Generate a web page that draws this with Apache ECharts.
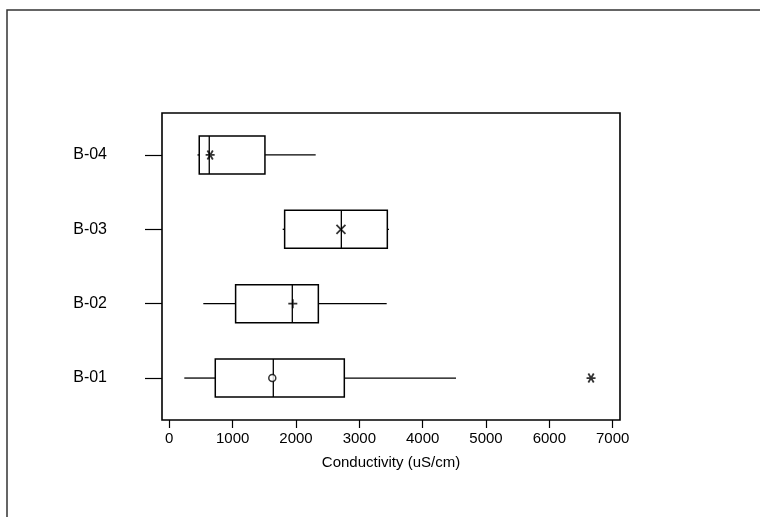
<!DOCTYPE html>
<html>
<head>
<meta charset="utf-8">
<script src="https://cdn.jsdelivr.net/npm/echarts@6/dist/echarts.min.js"></script>
<style>
html,body{margin:0;padding:0;background:#fff;}
#chart{width:760px;height:517px;}
</style>
</head>
<body>
<div id="chart"></div>
<script>
// Data
const categories = ['B-01', 'B-02', 'B-03', 'B-04'];
const whiskerLow = [237, 537, 1790, 445];
const q1 = [726, 1047, 1821, 473];
const median = [1642, 1942, 2716, 631];
const q3 = [2763, 2353, 3442, 1510];
const whiskerHigh = [4526, 3432, 3468, 2311];
const means = [1626, 1950, 2710, 645];
const outlierValues = [6658];
const outlierGroups = ['B-01'];
const xTicks = [0, 1000, 2000, 3000, 4000, 5000, 6000, 7000];
const xTitle = 'Conductivity (uS/cm)';

const FONT = '"Liberation Sans", Arial, sans-serif';
const chart = echarts.init(document.getElementById('chart'), null, {renderer: 'canvas'});

const boxData = categories.map((c, i) => [i + 1, whiskerLow[i], q1[i], median[i], q3[i], whiskerHigh[i]]);

const meanSymbols = [
  'circle',
  'path://M0,-1L0,1M-1,0L1,0',
  'path://M-1,-1L1,1M1,-1L-1,1',
  'path://M-1,0L1,0M-0.6,-1L0.6,1M0.6,-1L-0.6,1'
];
const asterisk = 'path://M-1,0L1,0M-0.6,-1L0.6,1M0.6,-1L-0.6,1';

const meanSeries = categories.map((c, i) => ({
  type: 'scatter',
  data: [[means[i], i + 1]],
  symbol: meanSymbols[i],
  symbolSize: i === 0 ? 7 : 9,
  z: 5,
  itemStyle: i === 0
    ? {color: '#fff', borderColor: '#000', borderWidth: 1.5}
    : {color: 'none', borderColor: '#000', borderWidth: 1.8},
  silent: true
}));

const option = {
  animation: false,
  backgroundColor: '#fff',
  graphic: [{
    type: 'rect',
    shape: {x: 7, y: 10, width: 900, height: 700},
    style: {fill: 'none', stroke: '#333', lineWidth: 1.5},
    silent: true
  }],
  grid: {
    left: 162, top: 113, right: 140, bottom: 97,
    show: true, borderColor: '#000', borderWidth: 1.6, backgroundColor: 'transparent'
  },
  xAxis: {
    type: 'value',
    min: -115, max: 7115,
    axisLine: {show: false, onZero: false},
    splitLine: {show: false},
    axisTick: {show: true, inside: false, customValues: xTicks, length: 8, lineStyle: {color: '#000', width: 1.2}},
    axisLabel: {customValues: xTicks, formatter: v => String(v), color: '#000', fontSize: 15, fontFamily: FONT, margin: 11},
    name: xTitle,
    nameLocation: 'middle',
    nameGap: 35,
    nameTextStyle: {color: '#000', fontSize: 15, fontFamily: FONT}
  },
  yAxis: {
    type: 'value',
    min: 0.436, max: 4.564,
    axisLine: {show: false, onZero: false},
    splitLine: {show: false},
    axisTick: {show: true, inside: false, customValues: [1, 2, 3, 4], length: 17, lineStyle: {color: '#000', width: 1.2}},
    axisLabel: {
      customValues: [1, 2, 3, 4],
      formatter: v => categories[Math.round(v) - 1] || '',
      color: '#000', fontSize: 16, fontFamily: FONT, margin: 55
    }
  },
  series: [{
    type: 'custom',
    data: boxData,
    z: 3,
    renderItem: function (params, api) {
      const y = api.value(0);
      const pLo = api.coord([api.value(1), y]);
      const pQ1 = api.coord([api.value(2), y]);
      const pMed = api.coord([api.value(3), y]);
      const pQ3 = api.coord([api.value(4), y]);
      const pHi = api.coord([api.value(5), y]);
      const half = api.size([0, 0.255])[1];
      const cy = pQ1[1];
      const st = {stroke: '#000', lineWidth: 1.3, fill: 'none'};
      return {
        type: 'group',
        children: [
          {type: 'line', shape: {x1: pLo[0], y1: cy, x2: pQ1[0], y2: cy}, style: st},
          {type: 'line', shape: {x1: pQ3[0], y1: cy, x2: pHi[0], y2: cy}, style: st},
          {type: 'rect', shape: {x: pQ1[0], y: cy - half, width: pQ3[0] - pQ1[0], height: 2 * half}, style: {stroke: '#000', lineWidth: 1.5, fill: '#fff'}},
          {type: 'line', shape: {x1: pMed[0], y1: cy - half, x2: pMed[0], y2: cy + half}, style: {stroke: '#000', lineWidth: 1.3}}
        ]
      };
    }
  }].concat(meanSeries).concat([{
    type: 'scatter',
    data: outlierValues.map((v, i) => [v, categories.indexOf(outlierGroups[i]) + 1]),
    symbol: asterisk,
    symbolSize: 9,
    z: 5,
    itemStyle: {color: 'none', borderColor: '#000', borderWidth: 1.8},
    silent: true
  }])
};
chart.setOption(option);
</script>
</body>
</html>
